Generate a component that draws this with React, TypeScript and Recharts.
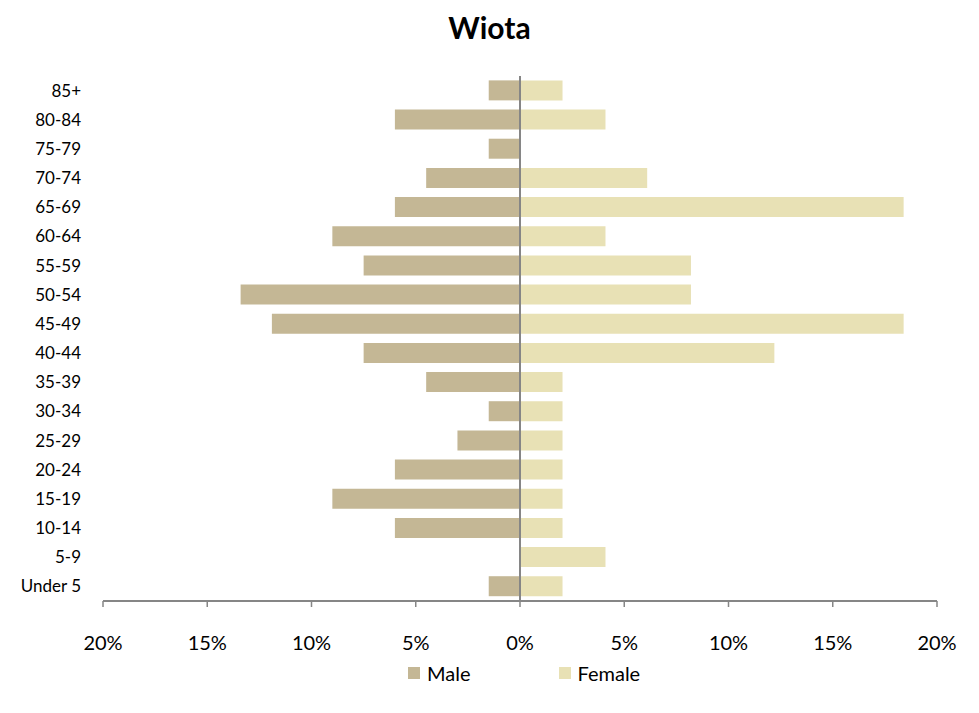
import React from 'react';
import { BarChart, Bar, XAxis, YAxis, ReferenceLine } from 'recharts';

// age groups, top to bottom
const ageGroups = ['85+', '80-84', '75-79', '70-74', '65-69', '60-64', '55-59', '50-54', '45-49', '40-44', '35-39', '30-34', '25-29', '20-24', '15-19', '10-14', '5-9', 'Under 5'];

// percent of population (male drawn to the left)
const maleValues = [1.5, 6.0, 1.5, 4.5, 6.0, 9.0, 7.5, 13.4, 11.9, 7.5, 4.5, 1.5, 3.0, 6.0, 9.0, 6.0, 0, 1.5];
const femaleValues = [2.04, 4.1, 0, 6.1, 18.4, 4.1, 8.2, 8.2, 18.4, 12.2, 2.04, 2.04, 2.04, 2.04, 2.04, 2.04, 4.1, 2.04];

const xTicks = [-20, -15, -10, -5, 0, 5, 10, 15, 20];

const MALE = '#C4B795';
const FEMALE = '#E8E1B5';
const FONT = 'Lato, "Liberation Sans", sans-serif';

const data = ageGroups.map((age, i) => ({
  age,
  male: -maleValues[i],
  female: femaleValues[i],
}));

const LegendItem = ({ color, label }: { color: string; label: string }) => (
  <div style={{ display: 'flex', alignItems: 'center' }}>
    <span style={{ width: 12, height: 12, background: color, marginRight: 7, display: 'inline-block' }} />
    <span style={{ fontSize: 20, color: '#000' }}>{label}</span>
  </div>
);

const App: React.FC = () => {
  return (
    <div style={{ position: 'absolute', left: 0, top: 0, width: 979, height: 713, background: '#fff', fontFamily: FONT }}>
      <div style={{ position: 'absolute', top: 9, left: 0, width: 979, textAlign: 'center', fontSize: 30, fontWeight: 'bold', color: '#000' }}>
        Wiota
      </div>
      <BarChart
        width={979}
        height={713}
        data={data}
        layout="vertical"
        stackOffset="sign"
        barCategoryGap="15%"
        margin={{ top: 76, right: 42, bottom: 62, left: 0 }}
      >
        <XAxis
          type="number"
          domain={[-20, 20]}
          ticks={xTicks}
          tickFormatter={(v: number) => `${Math.abs(v)}%`}
          axisLine={{ stroke: '#868686', strokeWidth: 2 }}
          tickLine={{ stroke: '#868686', strokeWidth: 1.5 }}
          tickSize={6}
          tickMargin={29}
          height={50}
          tick={{ fontSize: 20, fill: '#000', fontFamily: FONT }}
        />
        <YAxis
          type="category"
          dataKey="age"
          width={103}
          axisLine={false}
          tickLine={false}
          tickSize={0}
          tickMargin={22}
          interval={0}
          tick={{ fontSize: 17, fill: '#000', fontFamily: FONT }}
        />
        <Bar dataKey="male" stackId="a" fill={MALE} isAnimationActive={false} />
        <Bar dataKey="female" stackId="a" fill={FEMALE} isAnimationActive={false} />
        <ReferenceLine x={0} stroke="#868686" strokeWidth={2} />
      </BarChart>
      <div style={{ position: 'absolute', top: 661, left: 408, display: 'flex', gap: 88 }}>
        <LegendItem color={MALE} label="Male" />
        <LegendItem color={FEMALE} label="Female" />
      </div>
    </div>
  );
};

export default App;
